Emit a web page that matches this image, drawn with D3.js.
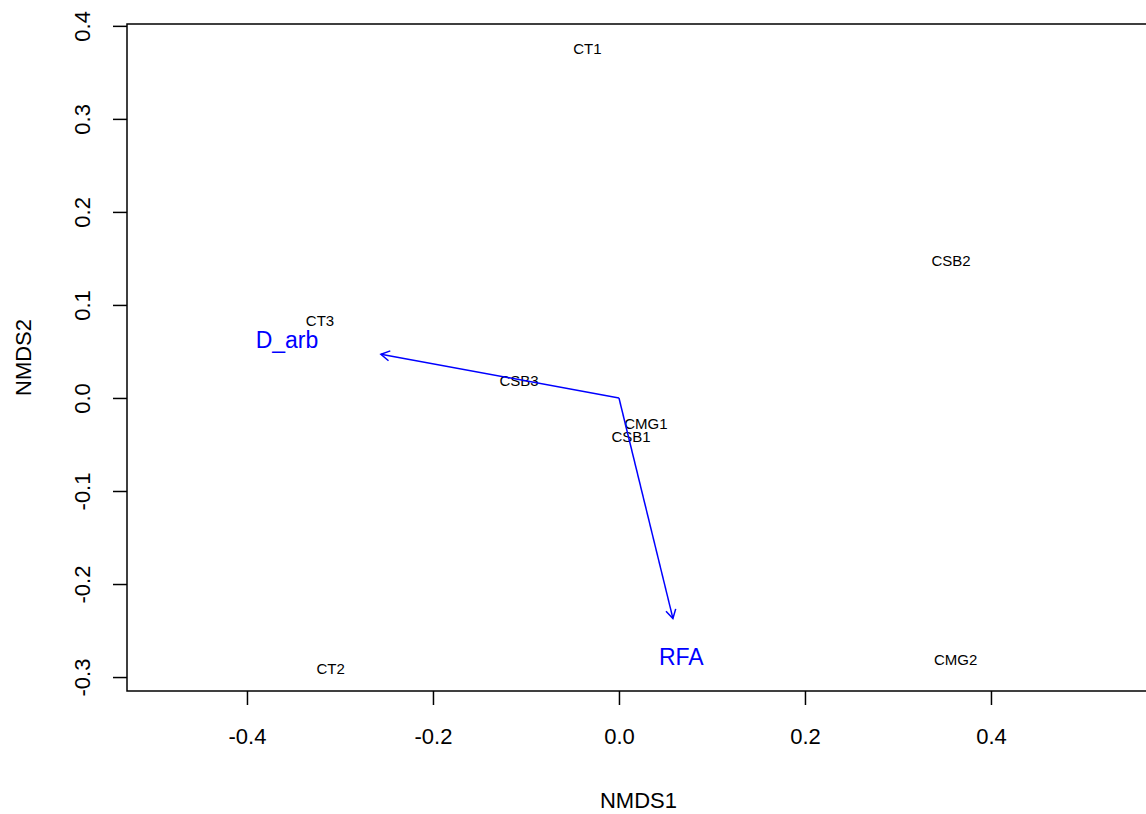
<!DOCTYPE html>
<html>
<head>
<meta charset="utf-8">
<script src="https://cdn.jsdelivr.net/npm/d3@7"></script>
<style>
body { margin: 0; background: #fff; }
text { font-family: "Liberation Sans", Arial, sans-serif; }
</style>
</head>
<body>
<svg width="1146" height="814"></svg>
<script>
// site scores (NMDS1, NMDS2)
var sites = ["CT1", "CSB2", "CT3", "CSB3", "CMG1", "CSB1", "CT2", "CMG2"];
var nmds1 = [-0.034, 0.357, -0.3215, -0.1075, 0.029, 0.013, -0.31, 0.362];
var nmds2 = [0.375, 0.148, 0.083, 0.018, -0.028, -0.042, -0.291, -0.281];

// envfit vectors
var vectors = ["D_arb", "RFA"];
var vecX = [-0.256, 0.058];
var vecY = [0.047, -0.237];
var vecLabX = [-0.357, 0.067];
var vecLabY = [0.062, -0.278];

var xTicks = [-0.4, -0.2, 0.0, 0.2, 0.4];
var yTicks = [-0.3, -0.2, -0.1, 0.0, 0.1, 0.2, 0.3, 0.4];

var canvas = d3.select("svg");

var x = d3.scaleLinear().domain([-0.529, 0.571]).range([127, 1150]);
var y = d3.scaleLinear().domain([-0.315, 0.402]).range([691, 24]);

// R prints a plain hyphen, not the unicode minus
var fmt = function(d) {
	return d3.format(".1f")(d).replace("\u2212", "-");
}

// x axis
var xAxis = canvas.append("g")
	.attr("transform", "translate(0," + y.range()[0] + ")")
	.call(d3.axisBottom(x).tickValues(xTicks).tickSize(14).tickPadding(23).tickFormat(fmt));
xAxis.select(".domain").remove();
xAxis.selectAll("line").attr("stroke", "#000").attr("stroke-width", 1.5);
xAxis.selectAll("text").attr("font-size", 22).attr("fill", "#000")
	.attr("font-family", "Liberation Sans, Arial, sans-serif");

// y axis
var yAxis = canvas.append("g")
	.attr("transform", "translate(" + x.range()[0] + ",0)")
	.call(d3.axisLeft(y).tickValues(yTicks).tickSize(14).tickFormat(fmt));
yAxis.select(".domain").remove();
yAxis.selectAll("line").attr("stroke", "#000").attr("stroke-width", 1.5);
yAxis.selectAll("text")
	.attr("font-size", 22).attr("fill", "#000")
	.attr("font-family", "Liberation Sans, Arial, sans-serif")
	.attr("x", null)
	.attr("text-anchor", "middle")
	.attr("transform", "translate(-45,0) rotate(-90)")
	.attr("dy", "0.35em");

// box
canvas.append("rect")
	.attr("x", x.range()[0])
	.attr("y", y.range()[1])
	.attr("width", x.range()[1] - x.range()[0])
	.attr("height", y.range()[0] - y.range()[1])
	.attr("fill", "none")
	.attr("stroke", "#000")
	.attr("stroke-width", 1.5);

// axis titles, centred on the plot region
canvas.append("text")
	.attr("x", d3.mean(x.range()))
	.attr("y", 800)
	.attr("dy", "0.35em")
	.attr("text-anchor", "middle")
	.attr("font-size", 22)
	.text("NMDS1");

canvas.append("text")
	.attr("transform", "translate(23," + d3.mean(y.range()) + ") rotate(-90)")
	.attr("dy", "0.35em")
	.attr("text-anchor", "middle")
	.attr("font-size", 22)
	.text("NMDS2");

// site labels
canvas.append("g").selectAll("text")
	.data(sites)
	.enter()
	.append("text")
	.attr("x", function (d, i) {return x(nmds1[i]);})
	.attr("y", function (d, i) {return y(nmds2[i]);})
	.attr("dy", "0.35em")
	.attr("text-anchor", "middle")
	.attr("font-size", 15)
	.attr("fill", "#000")
	.text(function (d) {return d;});

// arrows
var arrows = canvas.append("g")
	.attr("stroke", "#0000ff")
	.attr("stroke-width", 1.5)
	.attr("fill", "none");

vectors.forEach(function (v, i) {
	var x0 = x(0), y0 = y(0), x1 = x(vecX[i]), y1 = y(vecY[i]);
	var ang = Math.atan2(y1 - y0, x1 - x0);
	var len = 10, spread = Math.PI / 6;
	arrows.append("line")
		.attr("x1", x0).attr("y1", y0)
		.attr("x2", x1).attr("y2", y1);
	arrows.append("path")
		.attr("d", "M" + (x1 - len * Math.cos(ang - spread)) + "," + (y1 - len * Math.sin(ang - spread)) +
			"L" + x1 + "," + y1 +
			"L" + (x1 - len * Math.cos(ang + spread)) + "," + (y1 - len * Math.sin(ang + spread)));
});

canvas.append("g").selectAll("text")
	.data(vectors)
	.enter()
	.append("text")
	.attr("x", function (d, i) {return x(vecLabX[i]);})
	.attr("y", function (d, i) {return y(vecLabY[i]);})
	.attr("dy", "0.35em")
	.attr("text-anchor", "middle")
	.attr("font-size", 23)
	.attr("fill", "#0000ff")
	.text(function (d) {return d;});
</script>
</body>
</html>
